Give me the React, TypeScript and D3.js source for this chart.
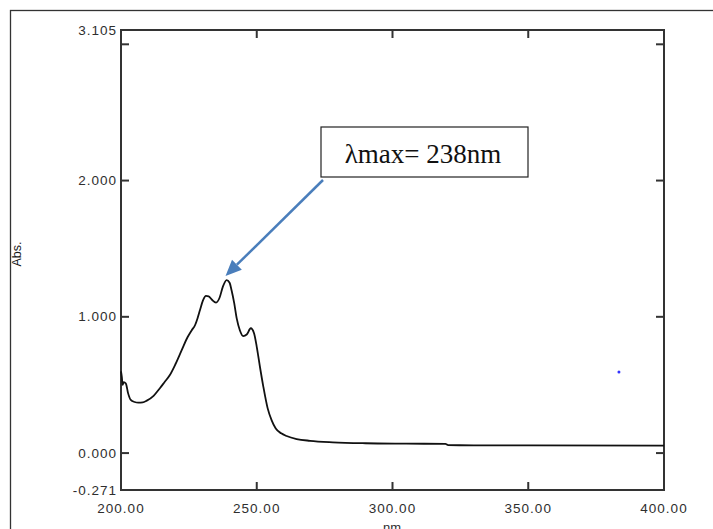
import React from "react";
import * as d3 from "d3";

const wavelengths = [200, 200.3, 200.6, 201.0, 201.8, 202.6, 203.6, 205.0, 206.4, 208.0, 209.5, 212, 214.4, 216, 218, 220, 222.4, 224.5, 226, 227.3, 228.2, 229.1, 230.2, 231.3, 232.3, 233.5, 235.0, 236.3, 237.5, 238.9, 240.0, 240.7, 241.7, 242.6, 243.8, 245.0, 246.3, 247.8, 249.0, 250.0, 251.2, 252.4, 254.0, 255.5, 257.0, 259.0, 261.0, 264.7, 269.6, 278, 290, 305, 319.5, 320.5, 350, 400];
const absorbance = [0.60, 0.56, 0.50, 0.52, 0.51, 0.44, 0.39, 0.375, 0.37, 0.372, 0.385, 0.42, 0.478, 0.52, 0.573, 0.65, 0.757, 0.85, 0.90, 0.94, 0.99, 1.05, 1.12, 1.153, 1.15, 1.125, 1.104, 1.14, 1.22, 1.27, 1.25, 1.197, 1.10, 0.99, 0.90, 0.859, 0.87, 0.916, 0.88, 0.78, 0.63, 0.49, 0.33, 0.24, 0.18, 0.145, 0.125, 0.103, 0.090, 0.079, 0.072, 0.069, 0.067, 0.058, 0.056, 0.054];

const xTicks = [200, 250, 300, 350, 400];
const xTickLabels = ["200.00", "250.00", "300.00", "350.00", "400.00"];
const yTicks = [0, 1, 2, 3];
const yLabelValues = [-0.271, 0, 1, 2, 3.105];
const yLabelTexts = ["-0.271", "0.000", "1.000", "2.000", "3.105"];
const strayPoint = [383.4, 0.595];
const annotationText = "λmax= 238nm";
const peakPoint = [238.5, 1.30];

export default function App() {
  const left = 121, right = 664, top = 30, bottom = 490;
  const x = d3.scaleLinear().domain([200, 400]).range([left, right]);
  const y = d3.scaleLinear().domain([-0.271, 3.105]).range([bottom, top]);
  const pts: [number, number][] = wavelengths.map((w, i) => [w, absorbance[i]]);
  const line = d3.line<[number, number]>().x(d => x(d[0])).y(d => y(d[1])).curve(d3.curveMonotoneX);
  const labelFont = "'Liberation Sans', Arial, sans-serif";
  const labelColor = "#2e2e2e";
  const ax = 323, ay = 180;
  const tx = x(peakPoint[0]), ty = y(peakPoint[1]);
  const ang = Math.atan2(ty - ay, tx - ax);
  const hl = 16, hw = 7;
  const bx = tx - hl * Math.cos(ang), by = ty - hl * Math.sin(ang);
  const px = -Math.sin(ang), py = Math.cos(ang);
  return (
    <svg width={713} height={529} style={{ position: "absolute", left: 0, top: 0, background: "#fff" }}>
      <rect x={0} y={0} width={713} height={529} fill="#fff" />
      <rect x={10.5} y={10.5} width={730} height={560} fill="none" stroke="#333" strokeWidth={1.3} />
      <rect x={left} y={top} width={right - left} height={bottom - top} fill="none" stroke="#333" strokeWidth={2} />
      {xTicks.slice(1, -1).map(t => (
        <g key={"xt" + t}>
          <line x1={x(t)} x2={x(t)} y1={bottom} y2={bottom - 8} stroke="#333" strokeWidth={2} />
          <line x1={x(t)} x2={x(t)} y1={top} y2={top + 8} stroke="#333" strokeWidth={2} />
        </g>
      ))}
      {yTicks.map(t => (
        <g key={"yt" + t}>
          <line x1={left} x2={left + 8} y1={y(t)} y2={y(t)} stroke="#333" strokeWidth={2} />
          <line x1={right} x2={right - 8} y1={y(t)} y2={y(t)} stroke="#333" strokeWidth={2} />
        </g>
      ))}
      {xTicks.map((t, i) => (
        <text key={"xl" + t} x={x(t)} y={513} textAnchor="middle" fontFamily={labelFont} fontSize={13.5} letterSpacing={1} fill={labelColor}>{xTickLabels[i]}</text>
      ))}
      {yLabelValues.map((v, i) => (
        <text key={"yl" + i} x={117} y={y(v) + 4.5} textAnchor="end" fontFamily={labelFont} fontSize={13.5} letterSpacing={1} fill={labelColor}>{yLabelTexts[i]}</text>
      ))}
      <text x={392} y={532} textAnchor="middle" fontFamily={labelFont} fontSize={13} fill={labelColor}>nm</text>
      <text transform={`translate(21,254) rotate(-90)`} textAnchor="middle" fontFamily={labelFont} fontSize={12.5} fill="#1a1a1a">Abs.</text>
      <path d={line(pts) || ""} fill="none" stroke="#111" strokeWidth={1.8} strokeLinejoin="round" />
      <circle cx={x(strayPoint[0])} cy={y(strayPoint[1])} r={1.5} fill="#3333ff" />
      <rect x={321} y={127} width={207} height={50} fill="#fff" stroke="#222" strokeWidth={1.2} />
      <text x={423} y={163} textAnchor="middle" fontFamily="'Liberation Serif', 'Times New Roman', serif" fontSize={27} fill="#111">{annotationText}</text>
      <line x1={ax} y1={ay} x2={bx} y2={by} stroke="#4a7ebb" strokeWidth={2.5} />
      <polygon points={`${tx},${ty} ${bx + px * hw},${by + py * hw} ${bx - px * hw},${by - py * hw}`} fill="#4a7ebb" />
    </svg>
  );
}
